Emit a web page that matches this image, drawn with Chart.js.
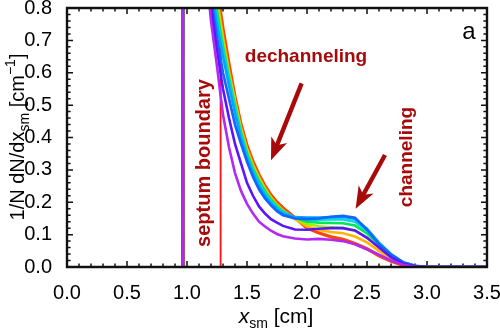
<!DOCTYPE html>
<html><head><meta charset="utf-8">
<script src="https://cdn.jsdelivr.net/npm/chart.js@4.4.1/dist/chart.umd.min.js"></script>
<style>html,body{margin:0;padding:0;background:#fff}#w{position:relative;width:500px;height:331px}
#frame{position:absolute;box-sizing:border-box;border:2px solid #111;pointer-events:none}</style>
</head><body><div id="w"><canvas id="c" width="500" height="331"></canvas><div id="frame"></div></div>
<script>
// shared x grid (cm)
const xGrid = [1.10,1.15,1.20,1.25,1.30,1.35,1.40,1.45,1.50,1.55,1.60,1.65,1.70,1.75,1.80,1.90,2.00,2.10,2.20,2.30,2.40,2.50,2.60,2.70,2.80,2.90,3.00,3.50];
// x at which each distribution rises at the crystal edge
const jumpX = [0.965,0.966,0.966,0.967,0.967,0.968,0.968,0.969,0.970];
const seriesNames = ["violet","indigo","blue","sky","cyan","green","lime","amber","red"];
const violet = [2.0,0.95,0.76,0.62,0.47,0.37,0.29,0.235,0.195,0.165,0.14,0.125,0.112,0.102,0.095,0.088,0.085,0.087,0.084,0.080,0.070,0.055,0.038,0.020,0.007,0.001,0,0];
const indigo = [2.0,1.10,0.80,0.67,0.55,0.46,0.38,0.32,0.26,0.22,0.187,0.165,0.148,0.137,0.127,0.116,0.115,0.118,0.120,0.120,0.113,0.090,0.060,0.030,0.010,0.002,0,0];
const blue   = [2.0,1.20,0.83,0.71,0.60,0.52,0.44,0.38,0.325,0.278,0.24,0.212,0.19,0.172,0.16,0.150,0.148,0.150,0.155,0.158,0.152,0.115,0.070,0.038,0.015,0.004,0,0];
const sky    = [2.0,1.30,0.87,0.75,0.65,0.56,0.475,0.398,0.337,0.289,0.251,0.221,0.197,0.179,0.165,0.154,0.153,0.153,0.154,0.155,0.148,0.118,0.075,0.040,0.015,0.004,0,0];
const cyan   = [2.0,1.35,0.89,0.77,0.67,0.575,0.488,0.407,0.345,0.297,0.259,0.228,0.203,0.184,0.169,0.153,0.146,0.146,0.147,0.147,0.140,0.112,0.072,0.038,0.014,0.003,0,0];
const green  = [2.0,1.40,0.91,0.79,0.68,0.585,0.497,0.415,0.352,0.304,0.266,0.234,0.208,0.188,0.172,0.152,0.140,0.137,0.136,0.135,0.128,0.104,0.068,0.035,0.013,0.003,0,0];
const lime   = [2.0,1.45,0.93,0.81,0.695,0.595,0.505,0.422,0.358,0.31,0.271,0.238,0.211,0.19,0.173,0.150,0.133,0.126,0.123,0.120,0.112,0.092,0.060,0.031,0.011,0.002,0,0];
const amber  = [2.0,1.50,0.95,0.83,0.71,0.605,0.515,0.43,0.365,0.316,0.277,0.243,0.215,0.193,0.175,0.148,0.125,0.114,0.108,0.104,0.094,0.076,0.050,0.026,0.009,0.002,0,0];
const red    = [2.0,1.60,0.98,0.86,0.735,0.625,0.525,0.44,0.375,0.325,0.285,0.25,0.222,0.20,0.182,0.152,0.120,0.105,0.093,0.085,0.072,0.056,0.035,0.018,0.006,0.001,0,0];
const seriesValues = [violet,indigo,blue,sky,cyan,green,lime,amber,red];
const seriesColors = ["#b428f5","#5a14ff","#1464ff","#00a5ff","#00dcdc","#00e65a","#a0f000","#ffb400","#ff4600"];
const septumX = 1.28;
const xTicks = [0,0.5,1.0,1.5,2.0,2.5,3.0,3.5];
const yTicks = [0,0.1,0.2,0.3,0.4,0.5,0.6,0.7,0.8];
const X_MIN=0, X_MAX=3.5, Y_MIN=0, Y_MAX=0.8;

const FONT = "'Liberation Sans', Arial, Helvetica, sans-serif";
const DARKRED = "#a80a0a";

const datasets = seriesValues.map((vals,i)=>({
  label: seriesNames[i],
  data: [{x:jumpX[i]-0.003,y:0},{x:jumpX[i],y:3}].concat(xGrid.map((x,k)=>({x:x,y:vals[k]}))),
  borderColor: seriesColors[i],
  borderWidth: i===seriesValues.length-1 ? 3.4 : 2.6,
  pointRadius: 0, tension: 0, fill:false
}));
datasets.push({label:"septum", data:[{x:septumX,y:Y_MIN},{x:septumX,y:Y_MAX}], borderColor:"#ff1010", borderWidth:1.8, pointRadius:0});
// inward tick marks (minor every 0.1 in x, 0.02 in y)
const tx = 6*(X_MAX-X_MIN)/420, ty = 6*(Y_MAX-Y_MIN)/259;
const tickPts=[];
for(let i=0;i<=35;i++){ const v=i/10, f=(i%5===0)?1:0.6;
  tickPts.push({x:v,y:Y_MIN},{x:v,y:Y_MIN+ty*f},{x:v,y:null},{x:v,y:Y_MAX},{x:v,y:Y_MAX-ty*f},{x:v,y:null}); }
const tickPtsY=[];
for(let i=0;i<=40;i++){ const v=i*0.02, f=(i%5===0)?1:0.6;
  tickPtsY.push({x:X_MIN,y:v},{x:X_MIN+tx*f,y:v},{x:X_MIN,y:null},{x:X_MAX,y:v},{x:X_MAX-tx*f,y:v},{x:X_MAX,y:null}); }
datasets.push({label:"ticksX", data:tickPts, borderColor:"#111", borderWidth:1.5, pointRadius:0, spanGaps:false, clip:false});
datasets.push({label:"ticksY", data:tickPtsY, borderColor:"#111", borderWidth:1.5, pointRadius:0, spanGaps:false, clip:false});

function rich(ctx, parts, x, y, rot){
  ctx.save(); ctx.translate(x,y); if(rot) ctx.rotate(rot);
  let tot=0; parts.forEach(p=>{ctx.font=p.f; p.w=ctx.measureText(p.t).width; tot+=p.w;});
  let cx=-tot/2; ctx.textBaseline="alphabetic"; ctx.textAlign="left"; ctx.fillStyle="#000";
  parts.forEach(p=>{ctx.font=p.f; ctx.fillText(p.t,cx,p.dy||0); cx+=p.w;});
  ctx.restore();
}
function poly(ctx, pts, color){
  ctx.fillStyle=color; ctx.beginPath(); ctx.moveTo(pts[0][0],pts[0][1]);
  for(let k=1;k<pts.length;k++) ctx.lineTo(pts[k][0],pts[k][1]);
  ctx.closePath(); ctx.fill();
}
function arrow(ctx, x0,y0,x1,y1){
  const a=Math.atan2(y1-y0,x1-x0), L=Math.hypot(x1-x0,y1-y0);
  ctx.save(); ctx.translate(x0,y0); ctx.rotate(a);
  poly(ctx,[[0,-2.2],[L-14,-2.2],[L-14,2.2],[0,2.2]],DARKRED);
  poly(ctx,[[L,0],[L-22,-8.5],[L-16,0],[L-22,8.5]],DARKRED);
  ctx.restore();
}
const deco = {
  id:"deco",
  afterDraw(chart){
    const ctx=chart.ctx, xs=chart.scales.x, ys=chart.scales.y;
    const L=xs.getPixelForValue(X_MIN), R=xs.getPixelForValue(X_MAX);
    const T=ys.getPixelForValue(Y_MAX), B=ys.getPixelForValue(Y_MIN);
    // frame on canvas in a near-black tone
    ctx.save();
    poly(ctx,[[L-1.2,T-1.2],[R+1.2,T-1.2],[R+1.2,B+1.2],[L-1.2,B+1.2],[L-1.2,T-1.2],[L+1.2,T+1.2],[L+1.2,B-1.2],[R-1.2,B-1.2],[R-1.2,T+1.2],[L+1.2,T+1.2]],"#1a1a1a");
    ctx.restore();
    // overlay frame element aligned with the chart area
    const fr=document.getElementById("frame");
    fr.style.left=(L-1)+"px"; fr.style.top=(T-1)+"px"; fr.style.width=(R-L+2)+"px"; fr.style.height=(B-T+2)+"px";
    ctx.save();
    ctx.fillStyle=DARKRED; ctx.textAlign="center"; ctx.textBaseline="middle";
    ctx.font="bold 19px "+FONT;
    ctx.fillText("dechanneling", 306, 57);
    ctx.save(); ctx.translate(407,157); ctx.rotate(-Math.PI/2); ctx.fillText("channeling",0,0); ctx.restore();
    ctx.font="bold 20px "+FONT;
    ctx.save(); ctx.translate(204,163); ctx.rotate(-Math.PI/2); ctx.fillText("septum boundary",0,0); ctx.restore();
    ctx.fillStyle="#000"; ctx.font="24px "+FONT; ctx.fillText("a", 469, 32);
    ctx.restore();
    arrow(ctx, xs.getPixelForValue(1.955), ys.getPixelForValue(0.567), xs.getPixelForValue(1.70), ys.getPixelForValue(0.33));
    arrow(ctx, xs.getPixelForValue(2.65), ys.getPixelForValue(0.346), xs.getPixelForValue(2.405), ys.getPixelForValue(0.18));
    rich(ctx,[{t:"1/N dN/dx",f:"20px "+FONT},{t:"sm",f:"14px "+FONT,dy:5},{t:" [cm",f:"20px "+FONT},{t:"\u22121",f:"14px "+FONT,dy:-9},{t:"]",f:"20px "+FONT}], 24, 137, -Math.PI/2);
    rich(ctx,[{t:"x",f:"italic 21px "+FONT},{t:"sm",f:"14px "+FONT,dy:5},{t:" [cm]",f:"21px "+FONT}], 276, 323, 0);
  }
};
function fixX(s){ s.height=64; s.paddingLeft=0; s.paddingRight=0; s.paddingTop=0; s.paddingBottom=0; }
function fixY(s){ s.width=67; s.paddingLeft=0; s.paddingRight=0; s.paddingTop=0; s.paddingBottom=0; }
new Chart(document.getElementById("c"),{
  type:"line",
  data:{datasets},
  options:{
    responsive:false, animation:false, devicePixelRatio:1,
    layout:{padding:{top:8,right:13,left:0,bottom:0}},
    plugins:{legend:{display:false},tooltip:{enabled:false}},
    scales:{
      x:{type:"linear",min:X_MIN,max:X_MAX,afterFit:fixX,afterBuildTicks:s=>{s.ticks=xTicks.map(v=>({value:v}));},
         grid:{display:false},border:{display:false},
         ticks:{font:{size:20,family:FONT},color:"#000",padding:6,maxRotation:0,autoSkip:false,callback:v=>v.toFixed(1)}},
      y:{type:"linear",min:Y_MIN,max:Y_MAX,afterFit:fixY,afterBuildTicks:s=>{s.ticks=yTicks.map(v=>({value:v}));},
         grid:{display:false},border:{display:false},
         ticks:{font:{size:20,family:FONT},color:"#000",padding:7,autoSkip:false,callback:v=>v.toFixed(1)}}
    }
  },
  plugins:[deco]
});
</script></body></html>
